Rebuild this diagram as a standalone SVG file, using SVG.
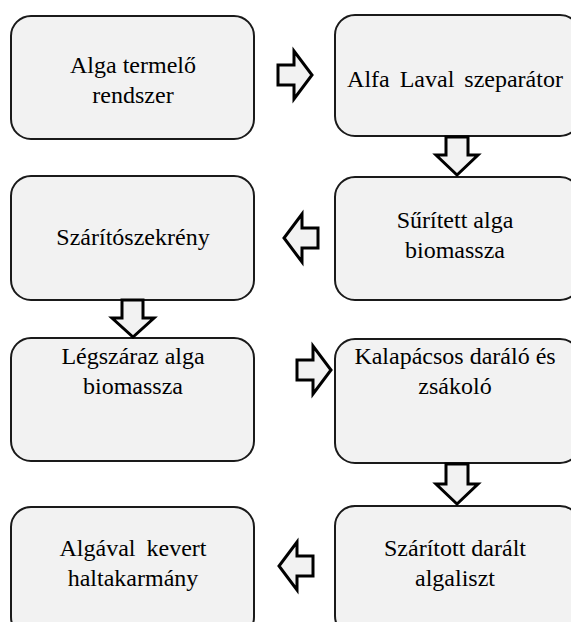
<svg xmlns="http://www.w3.org/2000/svg" width="571" height="622" viewBox="0 0 571 622">
<style>
.box{fill:#f2f2f2;stroke:#1a1a1a;stroke-width:2}
.arr{fill:#f2f2f2;stroke:#000;stroke-width:3;stroke-linejoin:miter}
</style>
<rect width="571" height="622" fill="#fff"/>
<g font-family="Liberation Serif, Times New Roman, DejaVu Serif, serif" font-size="24" fill="#000" text-anchor="middle">
<g id="n1"><rect class="box" x="11" y="16" width="243" height="123" rx="20"/><text x="133" y="73">Alga termelő</text><text x="133" y="103">rendszer</text></g>
<g id="n2"><rect class="box" x="335" y="15" width="245" height="121" rx="20"/><text x="455" y="87" word-spacing="4">Alfa Laval szeparátor</text></g>
<g id="n3"><rect class="box" x="335" y="177" width="245" height="123" rx="20"/><text x="455" y="228">Sűrített alga</text><text x="455" y="258">biomassza</text></g>
<g id="n4"><rect class="box" x="11" y="176" width="243" height="124" rx="20"/><text x="133" y="245">Szárítószekrény</text></g>
<g id="n5"><rect class="box" x="11" y="338" width="243" height="123" rx="20"/><text x="133" y="364">Légszáraz alga</text><text x="133" y="394">biomassza</text></g>
<g id="n6"><rect class="box" x="335" y="339" width="245" height="124" rx="20"/><text x="455" y="364">Kalapácsos daráló és</text><text x="455" y="394">zsákoló</text></g>
<g id="n7"><rect class="box" x="335" y="506" width="245" height="130" rx="20"/><text x="455" y="556">Szárított darált</text><text x="455" y="586">algaliszt</text></g>
<g id="n8"><rect class="box" x="11" y="507" width="243" height="130" rx="20"/><text x="133" y="556" word-spacing="5">Algával kevert</text><text x="133" y="586">haltakarmány</text></g>
</g>
<g id="connectors">
<polygon class="arr" points="278,65 294,65 294,51 312,75 294,99 294,85 278,85"/>
<polygon class="arr" points="446,137 468,137 468,155 478,155 457,175 436,155 446,155"/>
<polygon class="arr" points="318,228 302,228 302,214 284,238 302,262 302,248 318,248"/>
<polygon class="arr" points="122,300 143,300 143,318 154,318 133,337 112,318 122,318"/>
<polygon class="arr" points="297,360 313,360 313,346 331,370 313,394 313,380 297,380"/>
<polygon class="arr" points="446,464 468,464 468,484 478,484 457,504 436,484 446,484"/>
<polygon class="arr" points="313,556 297,556 297,542 279,566 297,590 297,576 313,576"/>
</g>
</svg>
